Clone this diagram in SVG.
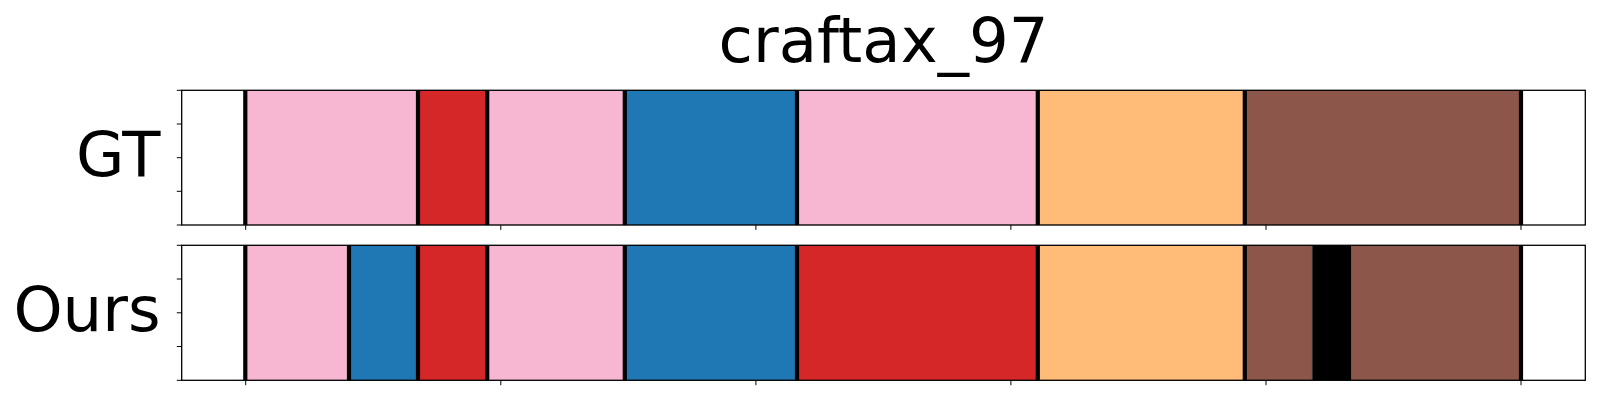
<svg xmlns="http://www.w3.org/2000/svg" width="1600" height="400" viewBox="0 0 1600 400">
<style>
text{font-family:"DejaVu Sans","Liberation Sans",sans-serif;fill:#000}
.t{font-size:62.5px}
.pk{fill:#f7b6d2}.rd{fill:#d62728}.bl{fill:#1f77b4}.or{fill:#ffbb78}.br{fill:#8c564b}.bk{fill:#000}
.seg rect{stroke:#000;stroke-opacity:0.12;stroke-width:1}
.bd line{stroke:#000;stroke-width:4.2}
.sp{fill:none;stroke:#000;stroke-width:1.3}
.tk line{stroke:#000;stroke-width:1}
</style>
<rect width="1600" height="400" fill="#fff"/>
<text id="title" class="t" x="883.5" y="61.7" text-anchor="middle">craftax_97</text>
<g id="gt">
  <text class="t" x="160.5" y="175.5" text-anchor="end">GT</text>
  <g class="seg">
    <rect class="pk" x="245.3" y="90.3" width="172.7" height="134.7"/>
    <rect class="rd" x="418" y="90.3" width="69.2" height="134.7"/>
    <rect class="pk" x="487.2" y="90.3" width="137.6" height="134.7"/>
    <rect class="bl" x="624.8" y="90.3" width="172.2" height="134.7"/>
    <rect class="pk" x="797" y="90.3" width="240.8" height="134.7"/>
    <rect class="or" x="1037.8" y="90.3" width="207" height="134.7"/>
    <rect class="br" x="1244.8" y="90.3" width="276.2" height="134.7"/>
  </g>
  <g class="bd">
    <line x1="245.3" y1="90.3" x2="245.3" y2="225"/>
    <line x1="418" y1="90.3" x2="418" y2="225"/>
    <line x1="487.2" y1="90.3" x2="487.2" y2="225"/>
    <line x1="624.8" y1="90.3" x2="624.8" y2="225"/>
    <line x1="797" y1="90.3" x2="797" y2="225"/>
    <line x1="1037.8" y1="90.3" x2="1037.8" y2="225"/>
    <line x1="1244.8" y1="90.3" x2="1244.8" y2="225"/>
    <line x1="1521" y1="90.3" x2="1521" y2="225"/>
  </g>
  <rect class="sp" x="181.7" y="90.3" width="1403.6" height="134.7"/>
  <g class="tk">
    <line x1="176.8" y1="90.3" x2="181.7" y2="90.3"/>
    <line x1="176.8" y1="124" x2="181.7" y2="124"/>
    <line x1="176.8" y1="157.7" x2="181.7" y2="157.7"/>
    <line x1="176.8" y1="191.3" x2="181.7" y2="191.3"/>
    <line x1="176.8" y1="225" x2="181.7" y2="225"/>
    <line x1="245.7" y1="225" x2="245.7" y2="229.9"/>
    <line x1="500.8" y1="225" x2="500.8" y2="229.9"/>
    <line x1="755.9" y1="225" x2="755.9" y2="229.9"/>
    <line x1="1010.9" y1="225" x2="1010.9" y2="229.9"/>
    <line x1="1266" y1="225" x2="1266" y2="229.9"/>
    <line x1="1521" y1="225" x2="1521" y2="229.9"/>
  </g>
</g>
<g id="ours">
  <text class="t" x="160.5" y="331" text-anchor="end">Ours</text>
  <g class="seg">
    <rect class="pk" x="245.3" y="245.3" width="103.7" height="135"/>
    <rect class="bl" x="349" y="245.3" width="69" height="135"/>
    <rect class="rd" x="418" y="245.3" width="69.2" height="135"/>
    <rect class="pk" x="487.2" y="245.3" width="137.6" height="135"/>
    <rect class="bl" x="624.8" y="245.3" width="172.2" height="135"/>
    <rect class="rd" x="797" y="245.3" width="240.8" height="135"/>
    <rect class="or" x="1037.8" y="245.3" width="207" height="135"/>
    <rect class="br" x="1244.8" y="245.3" width="67.5" height="135"/>
    <rect class="bk" x="1312.3" y="245.3" width="38.7" height="135"/>
    <rect class="br" x="1351" y="245.3" width="170" height="135"/>
  </g>
  <g class="bd">
    <line x1="245.3" y1="245.3" x2="245.3" y2="380.3"/>
    <line x1="349" y1="245.3" x2="349" y2="380.3"/>
    <line x1="418" y1="245.3" x2="418" y2="380.3"/>
    <line x1="487.2" y1="245.3" x2="487.2" y2="380.3"/>
    <line x1="624.8" y1="245.3" x2="624.8" y2="380.3"/>
    <line x1="797" y1="245.3" x2="797" y2="380.3"/>
    <line x1="1037.8" y1="245.3" x2="1037.8" y2="380.3"/>
    <line x1="1244.8" y1="245.3" x2="1244.8" y2="380.3"/>
    <line x1="1521" y1="245.3" x2="1521" y2="380.3"/>
  </g>
  <rect class="sp" x="181.7" y="245.3" width="1403.6" height="135"/>
  <g class="tk">
    <line x1="176.8" y1="245.3" x2="181.7" y2="245.3"/>
    <line x1="176.8" y1="279" x2="181.7" y2="279"/>
    <line x1="176.8" y1="312.8" x2="181.7" y2="312.8"/>
    <line x1="176.8" y1="346.5" x2="181.7" y2="346.5"/>
    <line x1="176.8" y1="380.3" x2="181.7" y2="380.3"/>
    <line x1="245.7" y1="380.3" x2="245.7" y2="385.2"/>
    <line x1="500.8" y1="380.3" x2="500.8" y2="385.2"/>
    <line x1="755.9" y1="380.3" x2="755.9" y2="385.2"/>
    <line x1="1010.9" y1="380.3" x2="1010.9" y2="385.2"/>
    <line x1="1266" y1="380.3" x2="1266" y2="385.2"/>
    <line x1="1521" y1="380.3" x2="1521" y2="385.2"/>
  </g>
</g>
</svg>
